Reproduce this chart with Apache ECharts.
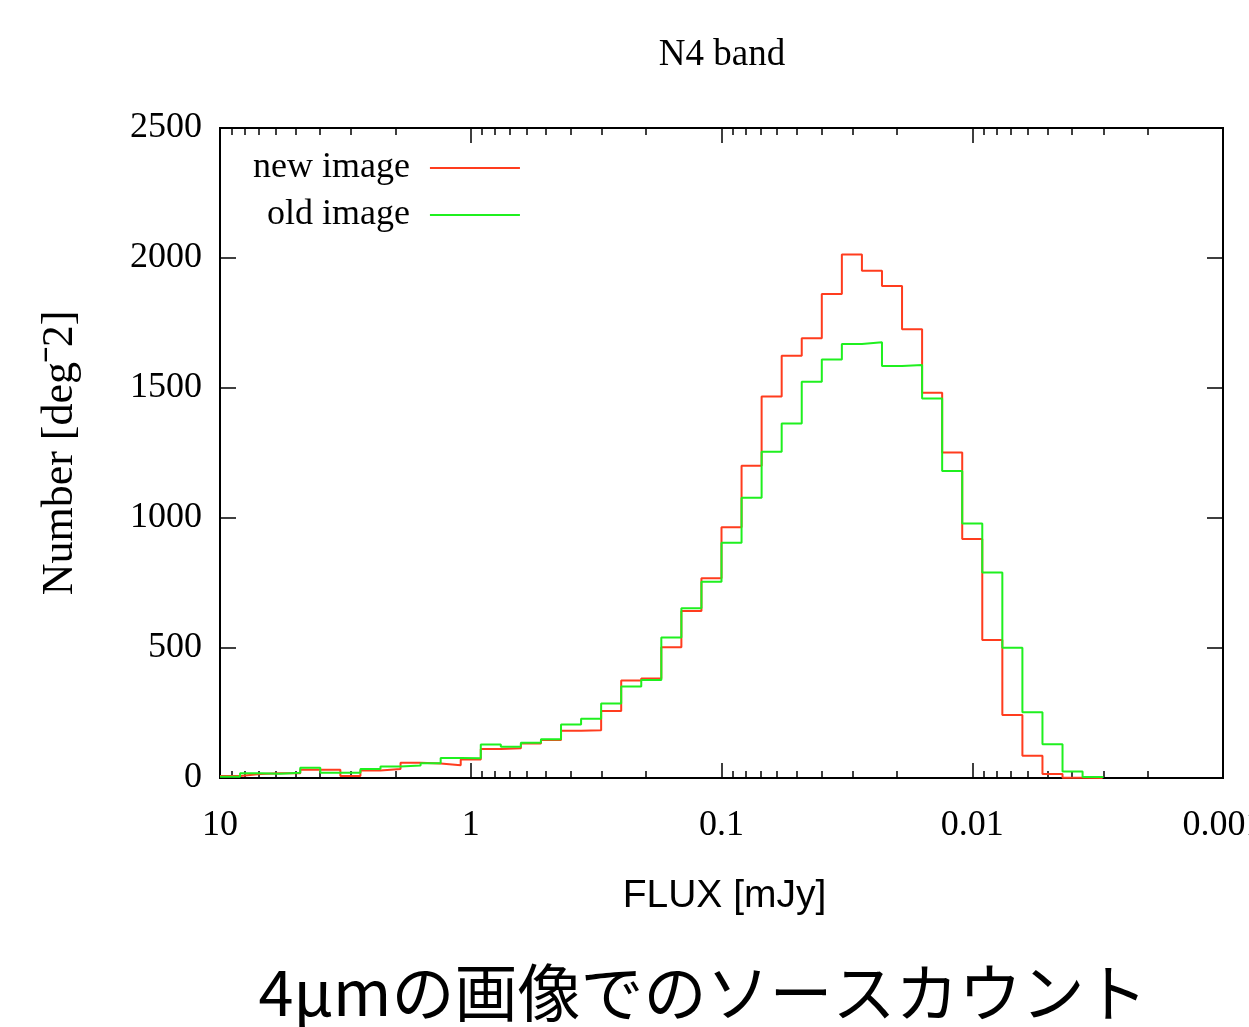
<!DOCTYPE html>
<html>
<head>
<meta charset="utf-8">
<script src="https://cdn.jsdelivr.net/npm/echarts@6/dist/echarts.min.js"></script>
<style>html,body{margin:0;padding:0;background:#fff}#c{width:1249px;height:1027px}</style>
</head>
<body>
<div id="c"></div>
<script>
// Bin edges of the histogram, log10(flux [mJy]) (0.2 mag bins)
const binEdgesLog10 = [1.00, 0.92, 0.84, 0.76, 0.68, 0.60, 0.52, 0.44, 0.36, 0.28, 0.20, 0.12, 0.04,
  -0.04, -0.12, -0.20, -0.28, -0.36, -0.44, -0.52, -0.60, -0.68, -0.76, -0.84, -0.92, -1.00,
  -1.08, -1.16, -1.24, -1.32, -1.40, -1.48, -1.56, -1.64, -1.72, -1.80, -1.88, -1.96, -2.04,
  -2.12, -2.20, -2.28, -2.36, -2.44, -2.52];
// Counts per bin [deg^-2]
const newImage = [8, 15, 18, 18, 32, 32, 8, 29, 35, 59, 56, 49, 71,
  112, 114, 133, 146, 182, 184, 258, 375, 383, 503, 642, 768,
  964, 1201, 1467, 1624, 1691, 1862, 2013, 1951, 1892, 1726, 1482, 1252,
  919, 531, 242, 86, 15, 1, 0];
const oldImage = [5, 18, 16, 20, 39, 20, 20, 35, 44, 48, 57, 77, 76,
  129, 120, 136, 149, 206, 228, 287, 352, 377, 540, 653, 755,
  905, 1078, 1255, 1363, 1524, 1610, 1669, 1676, 1585, 1588, 1460, 1181,
  979, 790, 501, 253, 130, 25, 4];

const xTickPositions = [1, 0, -1, -2, -3];
const xTickLabels = ['10', '1', '0.1', '0.01', '0.001'];
const minorMultipliers = [2, 3, 4, 5, 6, 7, 8, 9];
const minorDecades = [0.001, 0.01, 0.1, 1];

const seriesNames = ['new image', 'old image'];
const seriesColors = ['#ff3c1e', '#1ff01f'];

const minorTickValues = [];
minorDecades.forEach(d => minorMultipliers.forEach(m => minorTickValues.push(Math.log10(m * d))));

function stepData(values) {
  const out = values.map((v, i) => [binEdgesLog10[i], v]);
  out.push([binEdgesLog10[values.length], 0]);
  return out;
}

const SERIF = 'Liberation Serif';
const tickStyle = { color: '#000', width: 1.5 };

function xAxisDef(position, minor, withLabels) {
  const ax = {
    type: 'value', position: position, min: -3, max: 1, interval: 1, inverse: true,
    splitLine: { show: false },
    axisLine: { show: false, onZero: false },
    axisTick: { show: true, inside: true, length: minor ? 7 : 15, lineStyle: tickStyle },
    axisLabel: { show: false }
  };
  if (minor) ax.axisTick.customValues = minorTickValues;
  if (withLabels) {
    ax.axisLabel = {
      show: true, margin: 30, color: '#000', fontFamily: SERIF, fontSize: 36,
      showMinLabel: true, showMaxLabel: true, hideOverlap: false,
      formatter: v => xTickLabels[xTickPositions.indexOf(Math.round(v))]
    };
    ax.name = 'FLUX [mJy]';
    ax.nameLocation = 'middle';
    ax.nameGap = 99;
    ax.nameTextStyle = { fontFamily: 'Liberation Sans', fontSize: 39, color: '#000', padding: [0, 0, 0, 6] };
  }
  return ax;
}

function yAxisDef(position, withLabels) {
  const ax = {
    type: 'value', position: position, min: 0, max: 2500, interval: 500,
    splitLine: { show: false },
    axisLine: { show: false, onZero: false },
    axisTick: { show: true, inside: true, length: 16, lineStyle: tickStyle },
    axisLabel: { show: false }
  };
  if (withLabels) {
    ax.axisLabel = { show: true, margin: 18, color: '#000', fontFamily: SERIF, fontSize: 36,
      formatter: v => String(v) };
    ax.name = 'Number [degˉ2]';
    ax.nameLocation = 'middle';
    ax.nameGap = 138;
    ax.nameTextStyle = { fontFamily: SERIF, fontSize: 44, color: '#000' };
  }
  return ax;
}

const chart = echarts.init(document.getElementById('c'), null, { renderer: 'canvas' });
chart.setOption({
  backgroundColor: '#fff',
  animation: false,
  title: [
    { text: 'N4 band', left: 717, top: 32, textAlign: 'center',
      textStyle: { fontFamily: SERIF, fontSize: 37, fontWeight: 'normal', color: '#000' } },
    { text: '4μmの画像でのソースカウント', left: 698, top: 956, textAlign: 'center',
      textStyle: { fontFamily: 'Noto Sans CJK JP', fontSize: 63, fontWeight: 'normal', color: '#000' } }
  ],
  legend: {
    orient: 'vertical', align: 'right', left: 248, top: 145, itemGap: 11,
    itemWidth: 90, itemHeight: 2,
    data: seriesNames,
    textStyle: { fontFamily: SERIF, fontSize: 36, color: '#000', width: 170, align: 'right', padding: [0, 15, 0, 0] }
  },
  grid: { left: 220, right: 26, top: 128, bottom: 249, outerBoundsMode: 'none', containLabel: false,
    show: true, borderColor: '#000', borderWidth: 2, backgroundColor: 'transparent' },
  xAxis: [xAxisDef('bottom', false, true), xAxisDef('bottom', true, false), xAxisDef('top', false, false), xAxisDef('top', true, false)],
  yAxis: [yAxisDef('left', true), yAxisDef('right', false)],
  series: [
    { name: seriesNames[0], type: 'line', step: 'end', symbol: 'none', data: stepData(newImage),
      lineStyle: { color: seriesColors[0], width: 2 }, itemStyle: { color: seriesColors[0] } },
    { name: seriesNames[1], type: 'line', step: 'end', symbol: 'none', data: stepData(oldImage),
      lineStyle: { color: seriesColors[1], width: 2 }, itemStyle: { color: seriesColors[1] } }
  ]
});
</script>
</body>
</html>
